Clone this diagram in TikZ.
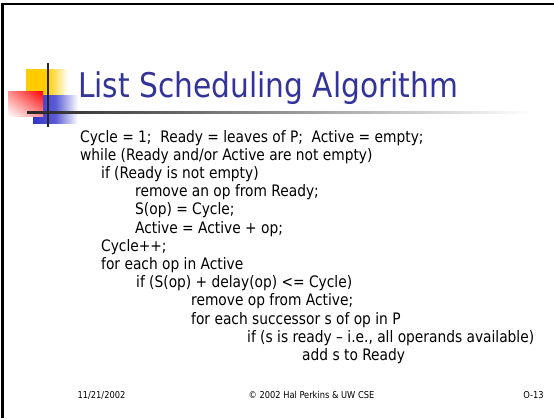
\documentclass[tikz,border=0pt]{standalone}
\usepackage{fontspec}
\setmainfont[FakeStretch=0.97]{DejaVu Sans Condensed}
\usetikzlibrary{shadings}
\begin{document}
\begin{tikzpicture}[x=1pt,y=-1pt,
  code/.style={anchor=base west,inner sep=0pt,font=\fontsize{15.8}{18}\selectfont},
  foot/.style={anchor=base,inner sep=0pt,font=\fontsize{9.5}{11}\selectfont}]
\definecolor{titleblue}{HTML}{333399}
\definecolor{sqyellow}{HTML}{FFCC00}
\definecolor{sqblue}{HTML}{3333CC}
\useasboundingbox (0,0) rectangle (554,418);
\fill[white] (0,0) rectangle (554,418);
% border
\draw[line width=2.5pt] (2.5,418) -- (2.5,4) -- (554,4);
% decoration
\shade[left color=sqyellow,right color=white,middle color=sqyellow] (26,69) rectangle (68,96);
\shade[left color=sqblue,right color=white,middle color=sqblue!80] (33,95) rectangle (78,123);
\shade[upper right=red,lower left=white,upper left=red!45,lower right=red!45] (8,91) rectangle (43,116);
\shade[left color=black!85,right color=white] (27,111) rectangle (532,113.5);
\draw[line width=2pt,black!85] (48,63) -- (48,127);
% title
\node[anchor=base west,inner sep=0pt,text=titleblue,font=\fontsize{34}{40}\selectfont] (title) at (78,97) {List Scheduling Algorithm};
% body
\node[code] (l1) at (80,142) {Cycle = 1;\ \ Ready = leaves of P;\ \ Active = empty;};
\node[code] (l2) at (80,160.2) {while (Ready and/or Active are not empty)};
\node[code] (l3) at (101,178.4) {if (Ready is not empty)};
\node[code] (l4) at (135,196.6) {remove an op from Ready;};
\node[code] (l5) at (135,214.8) {S(op) = Cycle;};
\node[code] (l6) at (135,233) {Active = Active + op;};
\node[code] (l7) at (101,251.2) {Cycle++;};
\node[code] (l8) at (101,269.4) {for each op in Active};
\node[code] (l9) at (136,287.6) {if (S(op) + delay(op) <= Cycle)};
\node[code] (l10) at (191,305.8) {remove op from Active;};
\node[code] (l11) at (191,324) {for each successor s of op in P};
\node[code] (l12) at (247,342.2) {if (s is ready – i.e., all operands available)};
\node[code] (l13) at (302,360.4) {add s to Ready};
% footer
\node[foot] (date) at (101.5,398) {11/21/2002};
\node[foot] (copy) at (311.5,398) {© 2002 Hal Perkins \& UW CSE};
\node[foot] (num) at (533.5,398) {O-13};
\end{tikzpicture}
\end{document}
